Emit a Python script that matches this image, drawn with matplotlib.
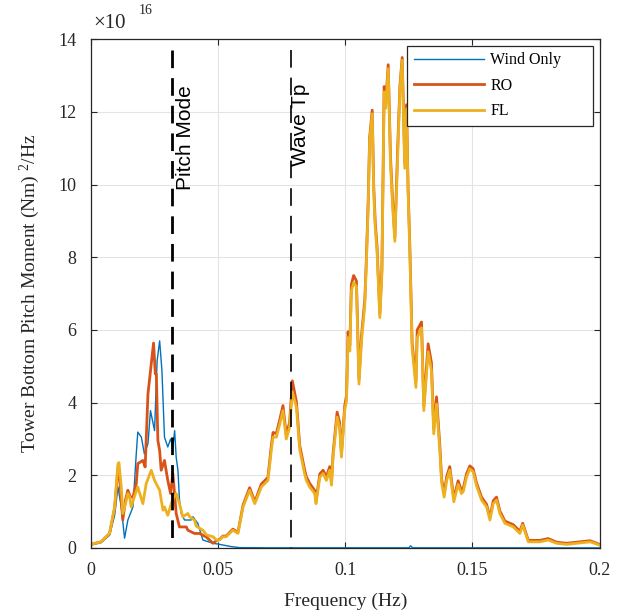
import numpy as np
import matplotlib
matplotlib.use('Agg')
import matplotlib.pyplot as plt

plt.rcParams['font.family'] = ['Liberation Serif', 'DejaVu Serif']
plt.rcParams['mathtext.fontset'] = 'custom'
plt.rcParams['mathtext.rm'] = 'Liberation Serif'
plt.rcParams['mathtext.default'] = 'regular'
plt.rcParams['lines.scale_dashes'] = False

# PSD values, units of 1e16 (Nm)^2/Hz
f_wind = [0.000, 0.004, 0.0073, 0.0093, 0.0106, 0.0119, 0.0132, 0.0145, 0.0165, 0.0178,
          0.0184, 0.0198, 0.0210, 0.0224, 0.0234, 0.0250, 0.0260, 0.0270, 0.0279, 0.0289,
          0.0302, 0.0313, 0.0322, 0.0329, 0.0335, 0.0342, 0.0348, 0.0355, 0.0368, 0.0394,
          0.0401, 0.0420, 0.0440, 0.0480, 0.0506, 0.0550, 0.0585, 0.0700, 0.1250, 0.1257,
          0.1265, 0.2000]
wind = [0.08, 0.15, 0.35, 0.90, 1.68, 1.13, 0.27, 0.77, 1.13, 2.59,
        3.19, 3.05, 2.59, 2.87, 3.78, 3.23, 5.15, 5.70, 4.88, 3.05,
        2.78, 3.00, 2.78, 3.23, 2.50, 2.14, 1.32, 0.95, 0.77, 0.77,
        0.86, 0.68, 0.22, 0.13, 0.10, 0.04, 0.01, 0.005, 0.005, 0.06,
        0.005, 0.003]

f_ro = [0.000, 0.004, 0.0073, 0.0093, 0.0106, 0.0112, 0.0119, 0.0125, 0.0135, 0.0145,
        0.0155, 0.0165, 0.0178, 0.0184, 0.0204, 0.0213, 0.0224, 0.0234, 0.0246, 0.0253,
        0.0257, 0.0263, 0.0270, 0.0276, 0.0289, 0.0302, 0.0313, 0.0322, 0.0335, 0.0348,
        0.0375, 0.0381, 0.0407, 0.0427, 0.0454, 0.0480, 0.0493, 0.0506, 0.0519, 0.0532,
        0.0558, 0.0578, 0.0598, 0.0624, 0.0644, 0.0650, 0.0670, 0.0683, 0.0696, 0.0709,
        0.0716, 0.0729, 0.0742, 0.0755, 0.0768, 0.0781, 0.0792, 0.0808, 0.0821, 0.0840,
        0.0847, 0.0860, 0.0880, 0.0885, 0.0900, 0.0913, 0.0926, 0.0939, 0.0946, 0.0952,
        0.0968, 0.0978, 0.0985, 0.0998, 0.1005, 0.1011, 0.1018, 0.1024, 0.1033, 0.1044,
        0.1054, 0.1064, 0.1077, 0.1083, 0.1090, 0.1096, 0.1106, 0.1112, 0.1118, 0.1125,
        0.1136, 0.1144, 0.1148, 0.1153, 0.1159, 0.1169, 0.1178, 0.1186, 0.1195, 0.1200,
        0.1206, 0.1215, 0.1224, 0.1234, 0.1241, 0.1247, 0.1254, 0.1257, 0.1263, 0.1270,
        0.1278, 0.1283, 0.1300, 0.1309, 0.1326, 0.1339, 0.1348, 0.1359, 0.1372, 0.1379,
        0.1389, 0.1399, 0.1411, 0.1427, 0.1444, 0.1457, 0.1464, 0.1477, 0.1490, 0.1503,
        0.1516, 0.1536, 0.1556, 0.1569, 0.1582, 0.1595, 0.1608, 0.1628, 0.1661, 0.1687,
        0.1698, 0.1720, 0.1766, 0.1798, 0.1831, 0.1871, 0.1910, 0.1963, 0.2000]
ro = [0.10, 0.17, 0.40, 1.10, 2.20, 2.00, 1.30, 0.77, 1.30, 1.59,
      1.40, 1.40, 1.77, 2.32, 2.41, 2.23, 4.24, 4.88, 5.64, 4.79,
      4.79, 2.96, 2.68, 2.14, 2.41, 1.86, 1.50, 2.05, 0.95, 0.58,
      0.58, 0.49, 0.40, 0.40, 0.30, 0.13, 0.20, 0.24, 0.33, 0.33,
      0.52, 0.43, 1.18, 1.66, 1.28, 1.38, 1.76, 1.85, 1.95, 2.80,
      3.18, 3.15, 3.52, 3.92, 3.12, 3.45, 4.60, 4.02, 2.82, 2.16,
      1.96, 1.78, 1.58, 1.30, 2.04, 2.14, 1.96, 2.24, 1.82, 2.60,
      3.74, 3.45, 2.60, 3.92, 4.20, 5.95, 5.58, 7.25, 7.50, 7.35,
      4.65, 5.85, 6.85, 7.95, 9.50, 11.30, 12.05, 9.95, 8.95, 8.30,
      6.45, 7.65, 9.95, 12.70, 12.25, 13.30, 10.75, 9.60, 8.55, 9.62,
      10.98, 12.72, 13.50, 10.60, 12.20, 9.95, 8.30, 7.45, 5.65, 5.15,
      4.58, 6.00, 6.22, 3.92, 5.62, 5.10, 3.28, 4.16, 2.82, 1.90,
      1.50, 1.96, 2.24, 1.36, 1.85, 1.58, 1.64, 2.04, 2.26, 2.18,
      1.80, 1.40, 1.20, 0.84, 1.30, 1.40, 1.02, 0.74, 0.64, 0.46,
      0.68, 0.21, 0.21, 0.26, 0.16, 0.13, 0.16, 0.20, 0.10]

f_fl = [0.000, 0.004, 0.0073, 0.0093, 0.0106, 0.0110, 0.0119, 0.0125, 0.0135, 0.0145,
        0.0152, 0.0158, 0.0170, 0.0184, 0.0204, 0.0217, 0.0237, 0.0250, 0.0270, 0.0283,
        0.0289, 0.0302, 0.0318, 0.0335, 0.0348, 0.0361, 0.0381, 0.0388, 0.0407, 0.0414,
        0.0440, 0.0454, 0.0480, 0.0493, 0.0506, 0.0519, 0.0532, 0.0558, 0.0578, 0.0598,
        0.0624, 0.0644, 0.0650, 0.0670, 0.0683, 0.0696, 0.0709, 0.0716, 0.0729, 0.0742,
        0.0755, 0.0768, 0.0781, 0.0792, 0.0808, 0.0821, 0.0840, 0.0847, 0.0860, 0.0880,
        0.0885, 0.0900, 0.0913, 0.0926, 0.0939, 0.0946, 0.0952, 0.0968, 0.0978, 0.0985,
        0.0998, 0.1005, 0.1011, 0.1018, 0.1024, 0.1033, 0.1044, 0.1054, 0.1064, 0.1077,
        0.1083, 0.1090, 0.1096, 0.1106, 0.1112, 0.1118, 0.1125, 0.1136, 0.1144, 0.1148,
        0.1153, 0.1159, 0.1169, 0.1178, 0.1186, 0.1195, 0.1200, 0.1206, 0.1215, 0.1224,
        0.1234, 0.1241, 0.1247, 0.1254, 0.1257, 0.1263, 0.1270, 0.1278, 0.1283, 0.1300,
        0.1309, 0.1326, 0.1339, 0.1348, 0.1359, 0.1372, 0.1379, 0.1389, 0.1399, 0.1411,
        0.1427, 0.1444, 0.1457, 0.1464, 0.1477, 0.1490, 0.1503, 0.1516, 0.1536, 0.1556,
        0.1569, 0.1582, 0.1595, 0.1608, 0.1628, 0.1661, 0.1687, 0.1698, 0.1720, 0.1766,
        0.1798, 0.1831, 0.1871, 0.1910, 0.1963, 0.2000]
fl = [0.10, 0.17, 0.40, 1.13, 2.32, 2.35, 1.68, 0.95, 1.20, 1.50,
      1.40, 1.13, 1.40, 1.68, 1.22, 1.77, 2.14, 1.86, 1.59, 1.04,
      1.13, 0.90, 1.27, 1.50, 1.22, 0.86, 0.95, 0.86, 0.77, 0.60,
      0.49, 0.36, 0.31, 0.22, 0.22, 0.31, 0.31, 0.49, 0.40, 1.13,
      1.59, 1.22, 1.32, 1.68, 1.77, 1.86, 2.68, 3.05, 3.05, 3.40,
      3.78, 3.00, 3.32, 4.30, 3.87, 2.70, 2.05, 1.86, 1.68, 1.50,
      1.22, 1.95, 2.05, 1.86, 2.14, 1.73, 2.50, 3.60, 3.32, 2.50,
      3.80, 4.05, 5.79, 5.42, 7.07, 7.30, 7.20, 4.51, 5.70, 6.70,
      7.80, 9.35, 11.18, 11.95, 9.81, 8.80, 8.16, 6.34, 7.53, 9.80,
      12.55, 12.10, 13.19, 10.54, 9.45, 8.44, 9.50, 10.85, 12.60, 13.42,
      10.45, 12.09, 9.81, 8.16, 7.30, 5.50, 5.00, 4.42, 5.79, 6.06,
      3.78, 5.40, 4.88, 3.14, 3.96, 2.68, 1.80, 1.40, 1.86, 2.14,
      1.27, 1.75, 1.50, 1.55, 1.95, 2.18, 2.10, 1.72, 1.32, 1.13,
      0.77, 1.22, 1.32, 0.95, 0.68, 0.58, 0.40, 0.63, 0.17, 0.17,
      0.22, 0.13, 0.10, 0.13, 0.17, 0.08]

pitch_mode = 0.032
wave_tp = 0.0786

fig = plt.figure(figsize=(6.18, 6.16), dpi=100)
ax = fig.add_axes([91 / 618, 1 - 548 / 616, 508.5 / 618, 508.7 / 616])

ax.plot(f_wind, wind, color='#0072BD', lw=1.0, label='Wind Only')
ax.plot(f_ro, ro, color='#D95319', lw=2.0, label='RO')
ax.plot(f_fl, fl, color='#EDB120', lw=2.0, label='FL')

# dashed markers drawn top-down so the dash pattern starts at the top
ax.plot([pitch_mode, pitch_mode], [13.7, 0], color='k', lw=2.0, dashes=(12.7, 7.2))
ax.plot([wave_tp, wave_tp], [13.7, 0], color='k', lw=1.2, dashes=(12.7, 7.2))
ax.text(0.0372, 9.85, 'Pitch Mode', rotation=90, ha='center', va='bottom',
        family='Liberation Sans', fontsize=15)
ax.text(0.0823, 10.5, 'Wave Tp', rotation=90, ha='center', va='bottom',
        family='Liberation Sans', fontsize=15)

ax.set_xlim(0, 0.2)
ax.set_ylim(0, 14)
ax.set_xticks([0, 0.05, 0.1, 0.15, 0.2])
ax.set_xticklabels(['0', '0.05', '0.1', '0.15', '0.2'])
ax.set_yticks(range(0, 15, 2))
ax.grid(True, color='#e3e3e3', lw=0.8)
ax.set_axisbelow(True)
ax.tick_params(direction='in', top=True, right=True, length=4, labelsize=13,
               color='#262626', labelcolor='#262626')
ax.tick_params(axis='y', pad=10.5)
ax.tick_params(axis='x', pad=10)
for s in ax.spines.values():
    s.set_color('#262626')
    s.set_linewidth(0.9)

ax.set_xlabel('Frequency (Hz)', fontsize=14, color='#262626', labelpad=10)
ax.set_ylabel('Tower Bottom Pitch Moment (Nm) $^{2}$/Hz', fontsize=14,
              color='#262626', labelpad=12)

fig.text(93 / 618, 1 - 28 / 616, '×10', fontsize=15, color='#262626')
fig.text(139 / 618, 1 - 14 / 616, '16', fontsize=10, color='#262626')

leg = ax.legend(loc='upper right', bbox_to_anchor=(0.622, 0.5, 0.366, 0.487),
                mode='expand', borderaxespad=0, fontsize=11.5, handlelength=4.4,
                handletextpad=0.4, labelspacing=0.6, fancybox=False, framealpha=1,
                edgecolor='#262626')
leg.get_frame().set_linewidth(0.9)

fig.savefig('out.png', dpi=100)
